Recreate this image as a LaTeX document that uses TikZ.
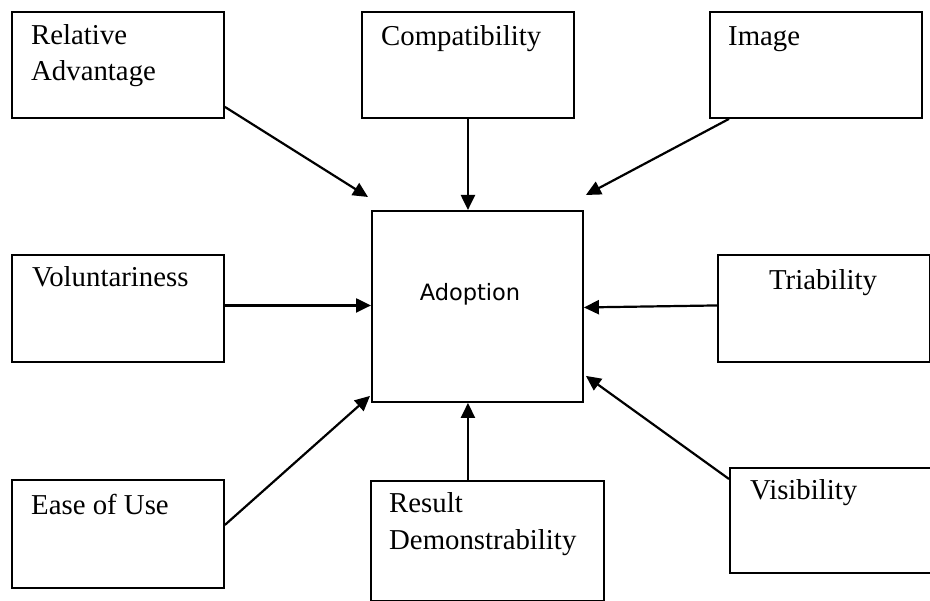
\documentclass[tikz,border=0pt]{standalone}
\usepackage{fontspec}
\setmainfont{Liberation Serif}
\newfontfamily\adoptfont{DejaVu Sans}
\usetikzlibrary{arrows.meta}

\begin{document}
\begin{tikzpicture}[x=1pt,y=-1pt,
  factor/.style={draw=black, line width=1.9pt, rectangle, inner sep=0pt,
    anchor=north west, minimum width=212pt, minimum height=106pt},
  label/.style={inner sep=0pt, anchor=base west, align=left,
    font=\fontsize{28.8}{36}\selectfont},
  link/.style={draw=black, line width=2.2pt,
    -{Triangle[length=15pt,width=14pt]}}]

\useasboundingbox (0,0) rectangle (930,601);
\clip (0,0) rectangle (930,601);

% factor boxes
\node[factor] (relAdv) at (11,11) {};
\node[factor] (compat) at (361,11) {};
\node[factor] (image) at (709,11) {};
\node[factor, minimum height=107pt] (volunt) at (11,254) {};
\node[factor, minimum height=107pt] (triab) at (717,254) {};
\node[factor, minimum height=108pt] (ease) at (11,479) {};
\node[factor, minimum width=233pt, minimum height=120pt] (result) at (370,480) {};
\node[factor, minimum width=230pt, minimum height=105pt] (visib) at (729,467) {};

% central box
\node[factor, minimum width=211pt, minimum height=191pt] (adopt) at (371,210) {};

% labels
\node[label] (tRel) at (31,45) {Relative};
\node[label] (tAdv) at (31,81) {Advantage};
\node[label] (tCom) at (381,46) {Compatibility};
\node[label] (tImg) at (728,46) {Image};
\node[label] (tVol) at (32,287) {Voluntariness};
\node[label, anchor=base] (tTri) at (823,290) {Triability};
\node[label] (tEas) at (31,515) {Ease of Use};
\node[label] (tRes) at (389,513) {Result};
\node[label] (tDem) at (389,550) {Demonstrability};
\node[label] (tVis) at (750,500) {Visibility};
\node[inner sep=0pt, anchor=base, font=\adoptfont\fontsize{22.5}{27}\selectfont]
  (tAdo) at (470,301) {Adoption};

% connectors
\draw[link] ([yshift=12pt]relAdv.south east) -- ([xshift=-3pt,yshift=13pt]adopt.north west);
\draw[link] (compat.south) -- (compat.south |- adopt.north);
\draw[link] ([xshift=20pt]image.south west) -- ([xshift=2pt,yshift=15pt]adopt.north east);
\draw[link] ([yshift=3pt]volunt.east) -- ([yshift=3pt]volunt.east -| adopt.west);
\draw[link] ([yshift=3pt]triab.west) -- ([yshift=1pt]triab.west -| adopt.east);
\draw[link] ([yshift=9pt]ease.east) -- ([xshift=-1pt,yshift=7pt]adopt.south west);
\draw[link] (result.north -| compat.south) -- (adopt.south -| compat.south);
\draw[link] ([yshift=-12pt]visib.north west) -- ([xshift=2pt,yshift=27pt]adopt.south east);

\end{tikzpicture}
\end{document}
